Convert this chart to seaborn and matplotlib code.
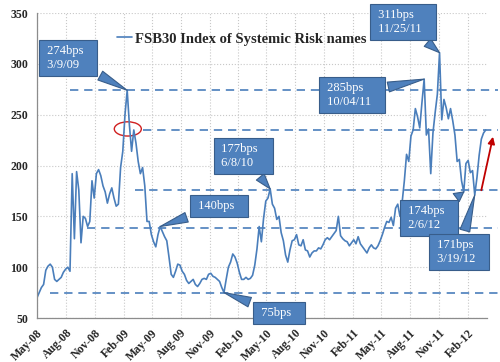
import matplotlib
matplotlib.use("Agg")
import matplotlib.pyplot as plt
import matplotlib.dates as mdates
from matplotlib.patches import Ellipse
import numpy as np
import pandas as pd
import seaborn as sns

# weekly readings of the index (bps), starting May 2008
values = [
    70, 75, 80, 83, 97, 101, 103, 100, 88, 86,
    88, 90, 95, 98, 100, 96, 192, 128, 194, 176,
    124, 150, 148, 140, 145, 185, 168, 192, 196, 190,
    180, 174, 163, 172, 178, 168, 160, 162, 198, 214,
    250, 274, 240, 214, 235, 222, 204, 192, 198, 180,
    145, 145, 132, 125, 120, 132, 140, 135, 130, 126,
    110, 93, 90, 96, 103, 102, 96, 93, 87, 84,
    86, 88, 83, 81, 84, 88, 89, 88, 93, 94,
    91, 90, 88, 86, 80, 75, 88, 100, 105, 113,
    110, 104, 95, 88, 88, 90, 88, 89, 92, 102,
    118, 140, 125, 148, 165, 168, 177, 162, 158, 147,
    150, 134, 126, 112, 105, 117, 126, 127, 132, 122,
    121, 127, 117, 116, 110, 114, 116, 116, 119, 118,
    122, 127, 129, 127, 130, 133, 136, 150, 131, 128,
    126, 125, 121, 124, 127, 123, 130, 123, 120, 117,
    114, 119, 122, 119, 118, 121, 126, 132, 139, 145,
    144, 149, 141, 158, 162, 150, 164, 185, 211, 204,
    229, 235, 256, 248, 237, 262, 285, 230, 236, 192,
    232, 252, 270, 311, 245, 265, 257, 246, 256, 244,
    230, 204, 206, 185, 174, 202, 205, 193, 195, 171,
    188, 210, 226, 232, 235,
]
dates = pd.date_range("2008-05-01", periods=len(values), freq="7D")
df = pd.DataFrame({"date": dates, "bps": values})

# horizontal reference levels and where each one starts
ref_levels = [274, 235, 176, 139, 75]
ref_starts = ["2008-08-14", "2009-04-03", "2009-03-09", "2008-10-07", "2008-06-11"]
ref_end = "2012-05-06"

# callouts: label, value of the point, week index of the point
callout_labels = ["274bps\n3/9/09", "311bps\n11/25/11", "285bps\n10/04/11",
                  "177bps\n6/8/10", "140bps", "75bps", "174bps\n2/6/12",
                  "171bps\n3/19/12"]
callout_values = [274, 311, 285, 177, 140, 75, 174, 171]
callout_weeks = [41, 183, 176, 106, 56, 85, 194, 199]
# box centres in figure pixels (from bottom left)
callout_boxes = [(68, 304), (403, 340), (352, 267), (243, 206),
                 (219, 156), (279, 49), (429, 144), (459, 110)]

tick_dates = pd.date_range("2008-05-01", "2012-02-01", freq="3MS")

sns.set_style("white")
plt.rcParams["font.family"] = ["Liberation Serif", "DejaVu Serif"]

blue = "#4A7EBB"
box_fc = "#4F81BD"
box_ec = "#385D8A"

fig = plt.figure(figsize=(5, 3.62), dpi=100)
ax = fig.add_axes([0.074, 0.1215, 0.9, 0.8425])

sns.lineplot(data=df, x="date", y="bps", ax=ax, color=blue, lw=1.2,
             label="FSB30 Index of Systemic Risk names")

ax.set_xlim(pd.Timestamp("2008-05-01"), pd.Timestamp("2012-04-02"))
ax.set_ylim(50, 350)
ax.set_yticks(np.arange(50, 351, 50))
ax.set_xticks(tick_dates)
ax.xaxis.set_major_formatter(mdates.DateFormatter("%b-%y"))
ax.set_xlabel("")
ax.set_ylabel("")
ax.grid(True, ls=":", color="#C8C8C8", lw=0.8)
for side in ["top", "right"]:
    ax.spines[side].set_visible(False)
for side in ["left", "bottom"]:
    ax.spines[side].set_color("#8C8C8C")
    ax.spines[side].set_linewidth(0.9)
ax.tick_params(axis="both", length=3, color="#8C8C8C", labelsize=8.5)
for lab in ax.get_yticklabels():
    lab.set_fontweight("bold")
for lab in ax.get_xticklabels():
    lab.set_fontweight("bold")
    lab.set_rotation(45)
    lab.set_ha("right")
    lab.set_rotation_mode("anchor")

for lvl, start in zip(ref_levels, ref_starts):
    ax.plot([pd.Timestamp(start), pd.Timestamp(ref_end)], [lvl, lvl],
            ls=(0, (5, 3.5)), color=blue, lw=1.2, clip_on=False)

for text, val, wk, box in zip(callout_labels, callout_values, callout_weeks, callout_boxes):
    padded = "\n".join(" " + ln + "   " for ln in text.split("\n"))
    ax.annotate(padded, xy=(dates[wk], val), xytext=box, textcoords="figure pixels",
                ha="center", va="center", multialignment="left", color="white",
                fontsize=9, linespacing=1.3, annotation_clip=False, zorder=5,
                bbox=dict(boxstyle="square,pad=0.4", fc=box_fc, ec=box_ec, lw=0.8),
                arrowprops=dict(arrowstyle="wedge,tail_width=0.8,shrink_factor=0.5",
                                fc=box_fc, ec=box_ec, lw=0.8, shrinkB=0))

# red highlight around the second level
ell = Ellipse((mdates.date2num(pd.Timestamp("2009-02-14")), 236), width=86, height=14,
              fill=False, ec="#D02020", lw=1.0)
ax.add_patch(ell)
ax.annotate("", xy=(pd.Timestamp("2012-04-23"), 231), xytext=(pd.Timestamp("2012-03-13"), 173),
            arrowprops=dict(arrowstyle="-|>", color="#C00000", lw=1.3), annotation_clip=False)

leg = ax.legend(loc="center left", bbox_to_anchor=(0.178, 0.915), frameon=False,
                handlelength=1.0, handletextpad=0.2, borderpad=0, borderaxespad=0,
                prop={"family": "Liberation Serif", "weight": "bold", "size": 10.5})

fig.savefig("out.png", dpi=100)
